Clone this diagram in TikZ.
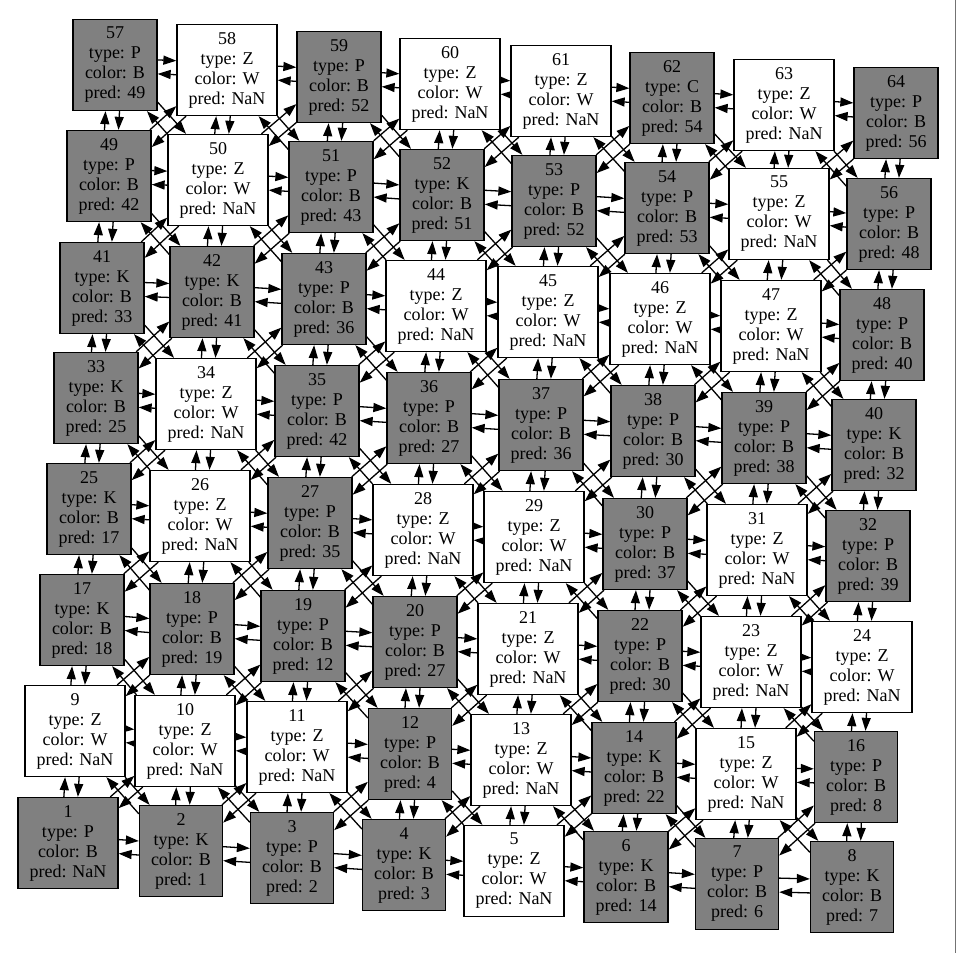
\documentclass[tikz,border=0pt]{standalone}
\usepackage{fontspec}
\setmainfont{Liberation Serif}
\usetikzlibrary{arrows.meta}
\pgfdeclarelayer{back}
\pgfdeclarelayer{bg}
\pgfsetlayers{back,bg,main}
\definecolor{nodegray}{RGB}{128,128,128}
\tikzset{
  box/.style={draw=black, line width=1.3pt, rectangle, align=center,
    inner xsep=11.5pt, inner ysep=0pt, minimum height=91pt,
    font=\fontsize{18}{20}\selectfont},
  boxB/.style={box, fill=nodegray},
  boxW/.style={box, fill=white},
  conn/.style={line width=1.3pt, draw=black, -{Triangle[length=13pt,width=9pt]}}
}
\newcommand\edgeoff{7}
% directed connector #1 -> #2, shifted to the left of its direction
\newcommand\dedge[2]{%
  \pgfpointanchor{#1}{center}\pgfgetlastxy\ax\ay
  \pgfpointanchor{#2}{center}\pgfgetlastxy\bx\by
  \pgfpointanchor{#1}{north east}\pgfgetlastxy\aex\aey
  \pgfpointanchor{#2}{north east}\pgfgetlastxy\bex\bey
  \pgfmathsetmacro\wA{\aex-\ax}\pgfmathsetmacro\hA{\aey-\ay}%
  \pgfmathsetmacro\wB{\bex-\bx}\pgfmathsetmacro\hB{\bey-\by}%
  \pgfmathsetmacro\ddx{\bx-\ax}\pgfmathsetmacro\ddy{\by-\ay}%
  \pgfmathsetmacro\len{veclen(\ddx,\ddy)}%
  \pgfmathsetmacro\ux{\ddx/\len}\pgfmathsetmacro\uy{\ddy/\len}%
  \pgfmathsetmacro\rx{-\edgeoff*\uy}\pgfmathsetmacro\ry{\edgeoff*\ux}%
  \pgfmathsetmacro\aux{max(abs(\ux),0.01)}\pgfmathsetmacro\auy{max(abs(\uy),0.01)}%
  \pgfmathsetmacro\sgx{\ux/\aux}\pgfmathsetmacro\sgy{\uy/\auy}%
  \pgfmathsetmacro\tA{min((\wA-\rx*\sgx)/\aux,(\hA-\ry*\sgy)/\auy)}%
  \pgfmathsetmacro\tB{min((\wB+\rx*\sgx)/\aux,(\hB+\ry*\sgy)/\auy)}%
  \pgfmathsetmacro\sx{\ax+\rx+\tA*\ux}\pgfmathsetmacro\sy{\ay+\ry+\tA*\uy}%
  \pgfmathsetmacro\ex{\bx+\rx-\tB*\ux}\pgfmathsetmacro\ey{\by+\ry-\tB*\uy}%
  \draw[conn] (\sx pt,\sy pt) -- (\ex pt,\ey pt);%
}
\newcommand\dpair[2]{\dedge{#1}{#2}\dedge{#2}{#1}}
\begin{document}
\begin{tikzpicture}[x=1pt,y=-1pt]
\useasboundingbox (0,0) rectangle (957,953);
\begin{pgfonlayer}{back}
  \fill[white] (0,0) rectangle (957,953);
  \draw[black!55, line width=1.3pt] (955.6,0) -- (955.6,953);
\end{pgfonlayer}
\foreach \nn/\xx/\yy/\tp/\cl/\pr in {
 1/68/843/P/B/NaN, 2/181/851/K/B/1, 3/292/858/P/B/2, 4/404/865/K/B/3,
 5/514/871/Z/W/NaN, 6/626/877/K/B/14, 7/737/884/P/B/6, 8/852/887/K/B/7,
 9/75/731/Z/W/NaN, 10/185/741/Z/W/NaN, 11/297/747/Z/W/NaN, 12/410/754/P/B/4,
 13/521/760/Z/W/NaN, 14/634/768/K/B/22, 15/746/774/Z/W/NaN, 16/856/777/P/B/8,
 17/82/620/K/B/18, 18/192/629/P/B/19, 19/303/636/P/B/12, 20/415/642/P/B/27,
 21/528/649/Z/W/NaN, 22/640/656/P/B/30, 23/751/662/Z/W/NaN, 24/862/667/Z/W/NaN,
 25/89/509/K/B/17, 26/200/516/Z/W/NaN, 27/310/523/P/B/35, 28/423/530/Z/W/NaN,
 29/534/537/Z/W/NaN, 30/645/544/P/B/37, 31/757/550/Z/W/NaN, 32/868/556/P/B/39,
 33/96/398/K/B/25, 34/206/404/Z/W/NaN, 35/317/411/P/B/42, 36/429/418/P/B/27,
 37/541/425/P/B/36, 38/653/431/P/B/30, 39/764/438/P/B/38, 40/874/445/K/B/32,
 41/102/288/K/B/33, 42/212/292/K/B/41, 43/324/299/P/B/36, 44/436/306/Z/W/NaN,
 45/548/312/Z/W/NaN, 46/660/319/Z/W/NaN, 47/771/326/Z/W/NaN, 48/882/335/P/B/40,
 49/109/176/P/B/42, 50/218/180/Z/W/NaN, 51/331/187/P/B/43, 52/442/195/K/B/51,
 53/554/201/P/B/52, 54/667/208/P/B/53, 55/779/214/Z/W/NaN, 56/889/224/P/B/48,
 57/115/65/P/B/49, 58/227/70/Z/W/NaN, 59/339/77/P/B/52, 60/450/84/Z/W/NaN,
 61/561/91/Z/W/NaN, 62/672/98/C/B/54, 63/784/105/Z/W/NaN, 64/896/113/P/B/56}{
  \node[box\cl] (n\nn) at (\xx,\yy) {\nn\\type: \tp\\color: \cl\\pred: \pr};
}
\begin{pgfonlayer}{bg}
\foreach \rr in {0,...,7}{
  \foreach \cc in {0,...,7}{
    \pgfmathtruncatemacro\ii{8*\rr+\cc+1}
    \ifnum\cc<7 \pgfmathtruncatemacro\jj{\ii+1}\dpair{n\ii}{n\jj}\fi
    \ifnum\rr<7
      \pgfmathtruncatemacro\jj{\ii+8}\dpair{n\ii}{n\jj}
      \ifnum\cc<7 \pgfmathtruncatemacro\jj{\ii+9}\dpair{n\ii}{n\jj}\fi
      \ifnum\cc>0 \pgfmathtruncatemacro\jj{\ii+7}\dpair{n\ii}{n\jj}\fi
    \fi
  }
}
\end{pgfonlayer}
\end{tikzpicture}
\end{document}
